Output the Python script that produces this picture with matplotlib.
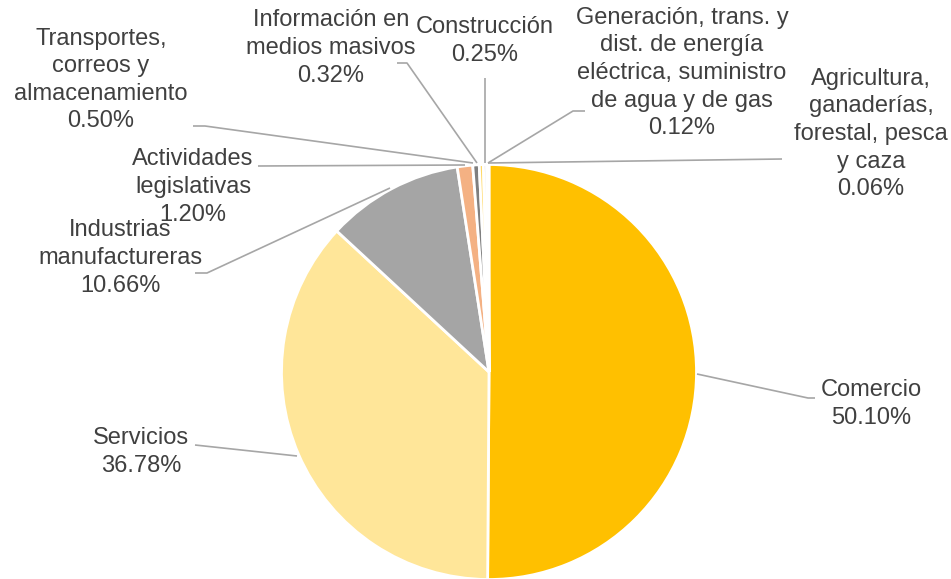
import matplotlib
matplotlib.use("Agg")
import matplotlib.pyplot as plt

# ---- data ----
categories = [
    "Comercio",
    "Servicios",
    "Industrias\nmanufactureras",
    "Actividades\nlegislativas",
    "Transportes,\ncorreos y\nalmacenamiento",
    "Información en\nmedios masivos",
    "Construcción",
    "Generación, trans. y\ndist. de energía\neléctrica, suministro\nde agua y de gas",
    "Agricultura,\nganaderías,\nforestal, pesca\ny caza",
]
values = [50.10, 36.78, 10.66, 1.20, 0.50, 0.32, 0.25, 0.12, 0.06]
colors = ["#FFC000", "#FFE699", "#A5A5A5", "#F4B183", "#7F7F7F",
          "#FFD966", "#C9C9C9", "#D9D9D9", "#BFBFBF"]

# ---- layout (pixel coords, y measured from top) ----
W, H = 951, 579
label_pos = [(871, 404), (141, 452), (120, 258), (193, 187), (101, 80),
             (331, 48), (485, 41), (682, 73), (871, 134)]
leaders = [
    [(697, 374), (808, 398), (815, 398)],
    [(297, 456), (195, 445)],
    [(390, 188), (207, 273), (195, 273)],
    [(465, 165), (258, 166)],
    [(473, 163), (205, 126), (193, 126)],
    [(477, 163), (407, 63), (397, 63)],
    [(485, 163), (485, 78)],
    [(488, 163), (573, 111), (585, 111)],
    [(488, 163), (782, 159)],
]

def Y(y):
    return H - y

fig = plt.figure(figsize=(W / 100, H / 100), dpi=100)
ax = fig.add_axes([0, 0, 1, 1])
ax.pie(values, colors=colors, startangle=90, counterclock=False,
       center=(489, Y(372)), radius=207.5,
       wedgeprops=dict(edgecolor="white", linewidth=2))
ax.set_xlim(0, W)
ax.set_ylim(0, H)
ax.set_aspect("equal")
ax.axis("off")

for pts in leaders:
    xs = [p[0] for p in pts]
    ys = [Y(p[1]) for p in pts]
    ax.plot(xs, ys, color="#A6A6A6", lw=1.2, solid_capstyle="butt")

for cat, v, (x, y) in zip(categories, values, label_pos):
    ax.text(x, Y(y), f"{cat}\n{v:.2f}%", ha="center", va="center",
            multialignment="center", fontsize=17, color="#404040",
            family=["Liberation Sans", "DejaVu Sans"], linespacing=1.33)

fig.savefig("out.png", dpi=100)
